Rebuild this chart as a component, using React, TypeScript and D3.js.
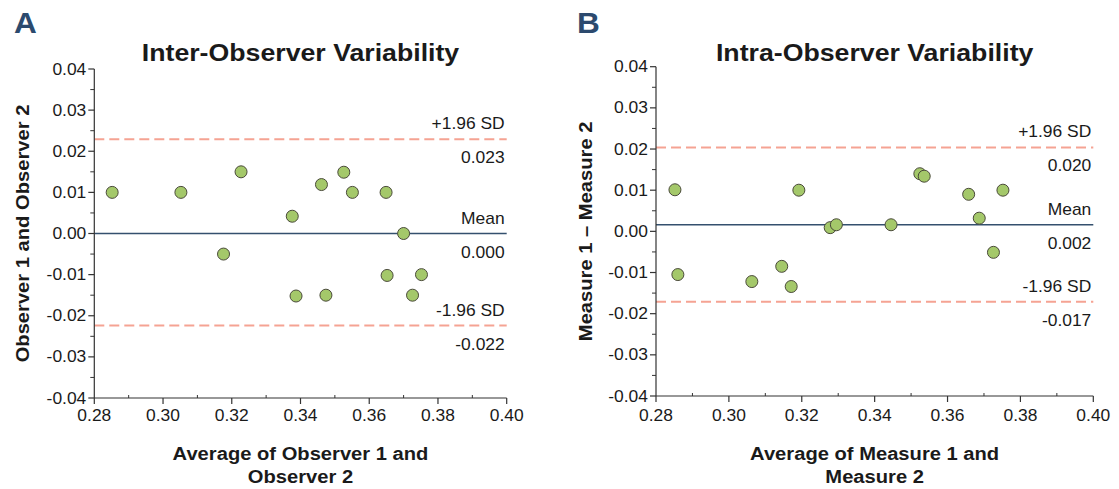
import React from "react";
import * as d3 from "d3";

// ---- Data ----
const interMean: number[] = [0.2852, 0.3052, 0.3227, 0.3376, 0.3461, 0.3526, 0.3551, 0.3649, 0.37, 0.3176, 0.3387, 0.3474, 0.3652, 0.3752, 0.3726];
const interDiff: number[] = [0.01, 0.01, 0.015, 0.0042, 0.0119, 0.0149, 0.01, 0.01, 0.0, -0.005, -0.0152, -0.015, -0.0102, -0.01, -0.015];
const interLines: number[] = [0.0229, 0.0, -0.0224]; // upper, mean, lower

const intraMean: number[] = [0.2852, 0.3192, 0.3278, 0.3295, 0.3445, 0.3524, 0.3536, 0.3658, 0.3752, 0.3687, 0.3726, 0.286, 0.3063, 0.3145, 0.3171];
const intraDiff: number[] = [0.0101, 0.01, 0.0009, 0.0016, 0.0016, 0.014, 0.0134, 0.009, 0.01, 0.0032, -0.0051, -0.0105, -0.0122, -0.0085, -0.0134];
const intraLines: number[] = [0.0204, 0.0016, -0.0171];

const xTicks: number[] = [0.28, 0.3, 0.32, 0.34, 0.36, 0.38, 0.4];
const yTicks: number[] = [0.04, 0.03, 0.02, 0.01, 0.0, -0.01, -0.02, -0.03, -0.04];
const lineLabels: string[] = ["+1.96 SD", "Mean", "-1.96 SD"];

const FONT = "'Liberation Sans', Arial, Helvetica, sans-serif";
const SX = 1.09;

const hy = (s: string) => s.replace(/\u2212/g, "-");

type TProps = {
  x: number; y: number; size: number; weight?: string | number; anchor?: string;
  rotate?: number; fill?: string; children: React.ReactNode;
};
function T({ x, y, size, weight = "normal", anchor = "start", rotate = 0, fill = "#1a1a1a", children }: TProps) {
  return (
    <g transform={`translate(${x},${y}) rotate(${rotate}) scale(${SX},1)`}>
      <text x={0} y={0} fontSize={size} fontWeight={weight as any} textAnchor={anchor as any} fill={fill} fontFamily={FONT}>
        {children}
      </text>
    </g>
  );
}

type PanelProps = {
  letter: string; letterX: number; title: string; yTitle: string; xTitle1: string; xTitle2: string;
  left: number; right: number; top: number; bottom: number; yTitleX: number;
  xs: number[]; ys: number[]; lines: number[];
};

function Panel(p: PanelProps) {
  const x = d3.scaleLinear().domain([0.28, 0.4]).range([p.left, p.right]);
  const y = d3.scaleLinear().domain([-0.04, 0.04]).range([p.bottom, p.top]);
  const cx = (p.left + p.right) / 2;
  const cy = (p.top + p.bottom) / 2;
  const yMinor = d3.range(-0.035, 0.04, 0.01);
  const xMinor = d3.range(0.29, 0.4, 0.02);
  const fmt3 = (v: number) => hy(d3.format(".3f")(v));
  const fmt2 = (v: number) => hy(d3.format(".2f")(v));
  const axisCol = "#333";
  return (
    <g>
      <T x={p.letterX} y={33} size={29} weight="bold" fill="#2c4a6e">{p.letter}</T>
      <T x={cx} y={61} size={24.5} weight="bold" anchor="middle">{p.title}</T>
      {/* reference lines */}
      {p.lines.map((v, i) => (
        <line key={"l" + i} x1={p.left} x2={p.right} y1={y(v)} y2={y(v)}
          stroke={i === 1 ? "#34506e" : "#f5a393"} strokeWidth={i === 1 ? 1.5 : 2}
          strokeDasharray={i === 1 ? undefined : "10,5"} />
      ))}
      {p.lines.map((v, i) => (
        <g key={"t" + i}>
          <T x={p.right - 2} y={y(v) - 10} size={16} anchor="end">{lineLabels[i]}</T>
          <T x={p.right - 2} y={y(v) + 24} size={16} anchor="end">{fmt3(v)}</T>
        </g>
      ))}
      {/* axes */}
      <line x1={p.left} x2={p.left} y1={p.top} y2={p.bottom} stroke={axisCol} strokeWidth={1.2} />
      <line x1={p.left} x2={p.right} y1={p.bottom} y2={p.bottom} stroke={axisCol} strokeWidth={1.2} />
      {yTicks.map((t) => (
        <g key={"y" + t}>
          <line x1={p.left - 6} x2={p.left} y1={y(t)} y2={y(t)} stroke={axisCol} strokeWidth={1.2} />
          <T x={p.left - 8} y={y(t) + 5.5} size={16} anchor="end">{fmt2(t)}</T>
        </g>
      ))}
      {yMinor.map((t) => (
        <line key={"ym" + t} x1={p.left - 4} x2={p.left} y1={y(t)} y2={y(t)} stroke={axisCol} strokeWidth={1} />
      ))}
      {xTicks.map((t) => (
        <g key={"x" + t}>
          <line x1={x(t)} x2={x(t)} y1={p.bottom} y2={p.bottom + 6} stroke={axisCol} strokeWidth={1.2} />
          <T x={x(t)} y={421} size={16} anchor="middle">{fmt2(t)}</T>
        </g>
      ))}
      {xMinor.map((t) => (
        <line key={"xm" + t} x1={x(t)} x2={x(t)} y1={p.bottom - 3} y2={p.bottom} stroke={axisCol} strokeWidth={1} />
      ))}
      {/* points */}
      {p.xs.map((v, i) => (
        <circle key={"p" + i} cx={x(v)} cy={y(p.ys[i])} r={6} fill="#a4c86a" stroke="#4a4a3a" strokeWidth={1} />
      ))}
      {/* axis titles */}
      <T x={cx} y={460} size={18.5} weight="bold" anchor="middle">{p.xTitle1}</T>
      <T x={cx} y={483} size={18.5} weight="bold" anchor="middle">{p.xTitle2}</T>
      <g transform={`translate(${p.yTitleX},${cy}) rotate(-90)`}>
        <text x={0} y={0} fontSize={18.5} fontWeight="bold" textAnchor="middle" fill="#1a1a1a" fontFamily={FONT}
          transform={`scale(${SX},1)`}>{p.yTitle}</text>
      </g>
    </g>
  );
}

export default function App() {
  return (
    <svg width={1119} height={489} style={{ position: "absolute", left: 0, top: 0, background: "#fff" }}>
      <rect width={1119} height={489} fill="#fff" />
      <Panel letter="A" letterX={14} title="Inter-Observer Variability" yTitle="Observer 1 and Observer 2"
        xTitle1="Average of Observer 1 and" xTitle2="Observer 2"
        left={94.3} right={506.7} top={69} bottom={398} yTitleX={29}
        xs={interMean} ys={interDiff} lines={interLines} />
      <Panel letter="B" letterX={577} title="Intra-Observer Variability" yTitle="Measure 1 – Measure 2"
        xTitle1="Average of Measure 1 and" xTitle2="Measure 2"
        left={656} right={1093.3} top={66.7} bottom={396} yTitleX={592}
        xs={intraMean} ys={intraDiff} lines={intraLines} />
    </svg>
  );
}
